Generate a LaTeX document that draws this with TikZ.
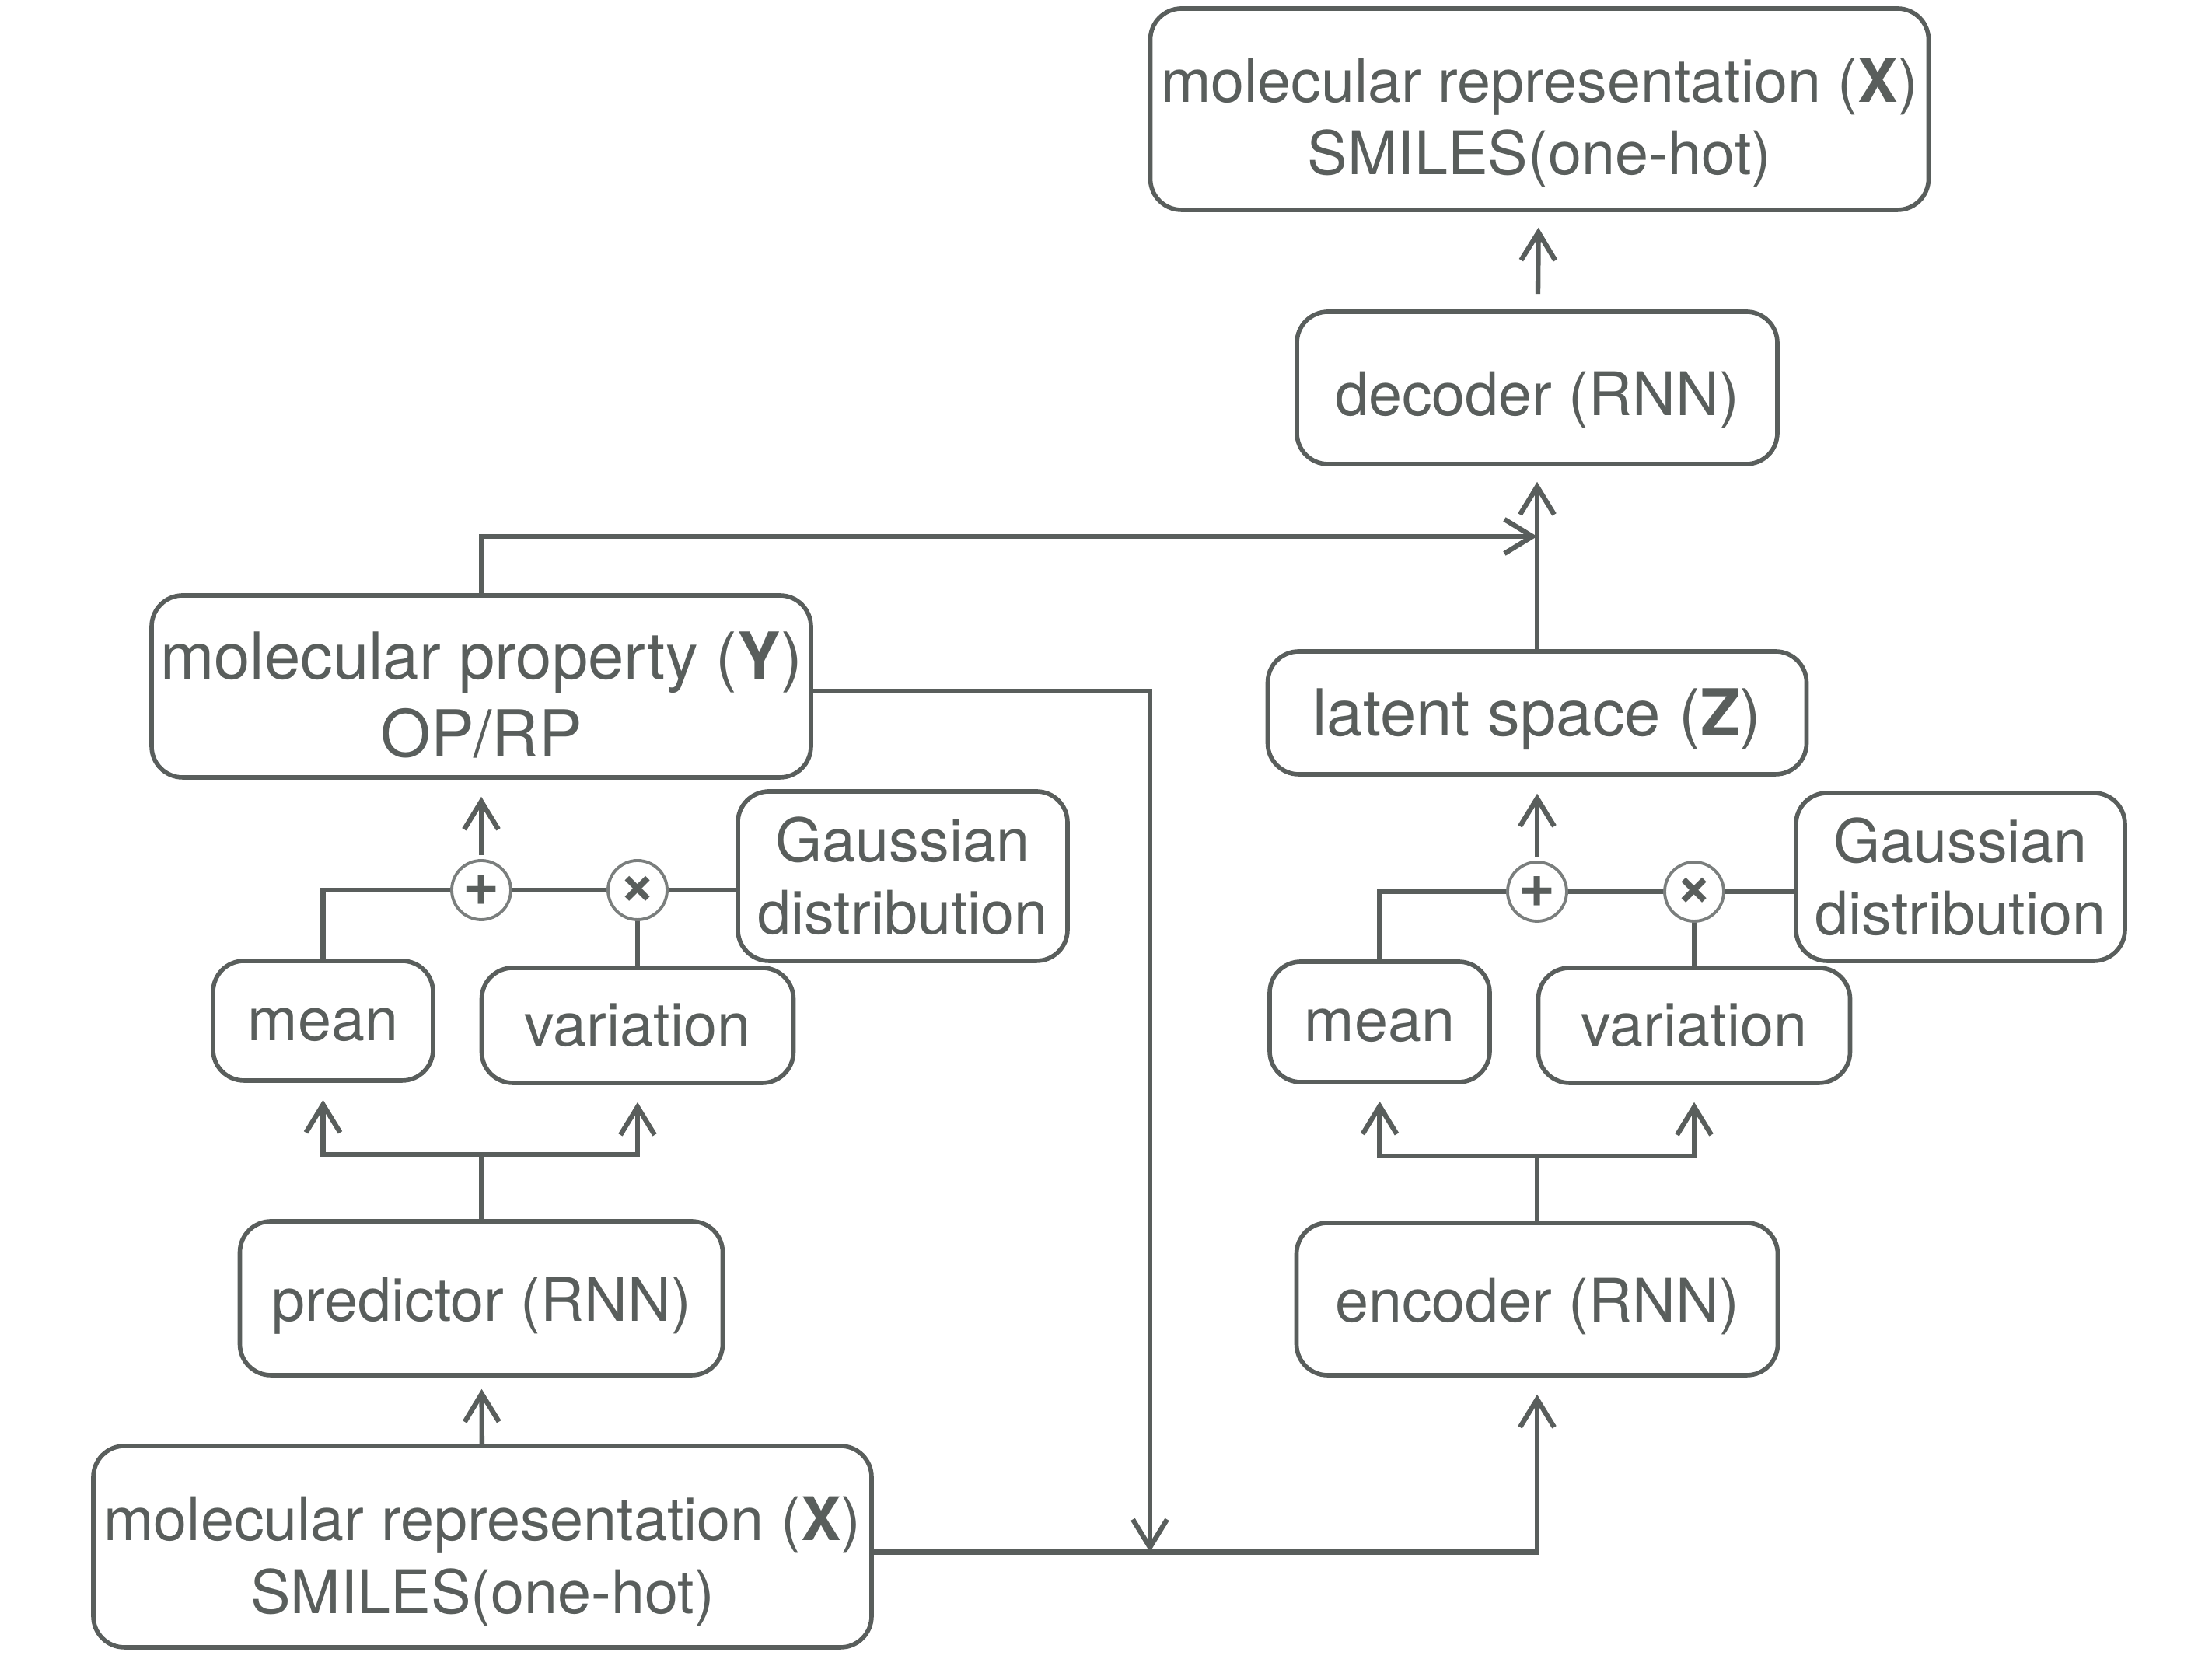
\documentclass[tikz,border=0pt]{standalone}
\usepackage{fontspec}
\setmainfont{TeX Gyre Heros}
\usepackage{tikz}
\usetikzlibrary{positioning}
\usetikzlibrary{arrows.meta}
\definecolor{darkgrey}{HTML}{595E5C}
\newcommand{\lowerline}[1]{\rule{0pt}{#1}}
\tikzset{>={Straight Barb[length=3.6mm,width=4.4mm]}}
\tikzset{
  block/.style={draw=darkgrey, line width=1.6pt, rounded corners=0.4cm, align=center,
    text=darkgrey, inner sep=2pt, font=\fontsize{22}{26.5}\selectfont},
  bigtext/.style={font=\fontsize{23.7}{28.5}\selectfont},
  textdrop/.style={execute at begin node={\rule{0pt}{#1}}},
  opnode/.style={draw=darkgrey!80, line width=1.1pt, circle, minimum size=0.76cm,
    inner sep=0pt, fill=white, text=darkgrey, font=\fontsize{23}{23}\selectfont\bfseries},
  link/.style={draw=darkgrey, line width=1.8pt}
}

\begin{document}
\begin{tikzpicture}
	\useasboundingbox (0,0) rectangle (28.45,21.34);
	% encoder / decoder side
	\node[block, minimum width=10.01cm, minimum height=2.59cm] (xout) at (19.80,19.935) {\lowerline{25.8pt}molecular representation (\textbf{X})\\SMILES(one-hot)};
	\node[block, textdrop=24.8pt, minimum width=6.18cm, minimum height=1.96cm] (decoder) at (19.77,16.35) {decoder (RNN)};
	\node[block, bigtext, textdrop=22pt, minimum width=6.93cm, minimum height=1.58cm] (latent) at (19.77,12.17) {latent space (\textbf{Z})};
	\node[opnode] (plusR) at (19.77,9.87) {+};
	\node[opnode] (timesR) at (21.79,9.87) {×};
	\node[block, minimum width=4.23cm, minimum height=2.16cm] (gaussR) at (25.215,10.06) {Gaussian\\distribution};
	\node[block, textdrop=14.6pt, minimum width=2.83cm, minimum height=1.55cm] (meanR) at (17.745,8.195) {mean};
	\node[block, minimum width=4.01cm, minimum height=1.48cm] (varR) at (21.79,8.15) {variation};
	\node[block, textdrop=21.7pt, minimum width=6.19cm, minimum height=1.96cm] (encoder) at (19.77,4.63) {encoder (RNN)};
	% predictor side
	\node[block, bigtext, minimum width=8.48cm, minimum height=2.34cm] (propY) at (6.19,12.51) {\lowerline{23.4pt}molecular property (\textbf{Y})\\OP/RP};
	\node[opnode] (plusL) at (6.19,9.89) {+};
	\node[opnode] (timesL) at (8.20,9.89) {×};
	\node[block, minimum width=4.24cm, minimum height=2.18cm] (gaussL) at (11.61,10.07) {Gaussian\\distribution};
	\node[block, textdrop=14.6pt, minimum width=2.83cm, minimum height=1.54cm] (meanL) at (4.155,8.21) {mean};
	\node[block, minimum width=4.01cm, minimum height=1.48cm] (varL) at (8.20,8.15) {variation};
	\node[block, textdrop=21.7pt, minimum width=6.21cm, minimum height=1.98cm] (predictor) at (6.19,4.64) {predictor (RNN)};
	\node[block, minimum width=10.01cm, minimum height=2.59cm] (xin) at (6.205,1.445) {\lowerline{26.9pt}molecular representation (\textbf{X})\\SMILES(one-hot)};
	\coordinate (merge) at (19.77,14.44);
	\coordinate (dropx) at (14.79,0);
	\coordinate (xinout) at ([yshift=-0.07cm]xin.east);
	\coordinate (propout) at ([yshift=-0.06cm]propY.east);
	\coordinate (drop) at (xinout -| dropx);
	\begin{scope}[every path/.style={link}]
		\draw[->,shorten <=0.2cm,shorten >=0.2cm] (decoder) -- (xout);
		\draw[->,shorten >=0.2cm] (latent) -- (decoder);
		\draw[->] (propY.north) |- (merge);
		\draw[->] (propout) -| (drop);
		\draw[->,shorten >=0.22cm] (xinout) -| (encoder.south);
		\draw[->,shorten >=0.15cm] (xin) -- (predictor);
		% left sampling
		\draw (predictor.north) -- ++(0,0.83) coordinate (splitL);
		\draw[->,shorten >=0.22cm] (splitL) -| (meanL.south);
		\draw[->,shorten >=0.22cm] (splitL) -| (varL.south);
		\draw (meanL.north) |- (plusL);
		\draw (plusL) -- (timesL);
		\draw (timesL) -- (timesL -| gaussL.west);
		\draw (varL.north) -- (timesL);
		\draw[->,shorten <=0.05cm,shorten >=0.22cm] (plusL) -- (propY);
		% right sampling
		\draw (encoder.north) -- ++(0,0.83) coordinate (splitR);
		\draw[->,shorten >=0.22cm] (splitR) -| (meanR.south);
		\draw[->,shorten >=0.22cm] (splitR) -| (varR.south);
		\draw (meanR.north) |- (plusR);
		\draw (plusR) -- (timesR);
		\draw (timesR) -- (timesR -| gaussR.west);
		\draw (varR.north) -- (timesR);
		\draw[->,shorten <=0.05cm,shorten >=0.22cm] (plusR) -- (latent);
	\end{scope}
\end{tikzpicture}
\end{document}
